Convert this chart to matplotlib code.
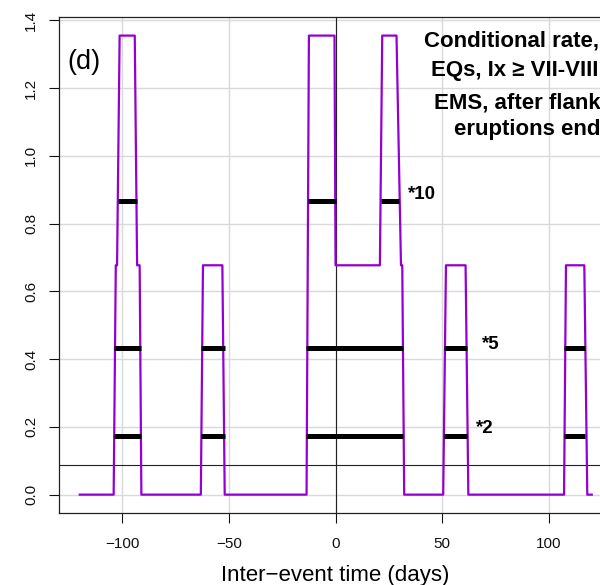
import matplotlib
matplotlib.use("Agg")
import matplotlib.pyplot as plt
import numpy as np

plt.rcParams['font.family'] = ['Liberation Sans', 'DejaVu Sans']

# ---- data ----
curve_x = [-120, -104.1, -103.1, -102.5, -101.3, -94.2, -93.1, -91.9, -91.1,
           -63.2, -62.2, -53.1, -52.0,
           -13.6, -12.5, -0.5, 0.0, 20.8, 21.9, 28.6, 30.7, 31.3, 32.2,
           50.5, 51.8, 61.0, 62.3,
           107.2, 108.1, 116.7, 118.1, 120.2]
curve_y = [0, 0, 0.677, 0.677, 1.355, 1.355, 0.677, 0.677, 0,
           0, 0.677, 0.677, 0,
           0, 1.355, 1.355, 0.677, 0.677, 1.355, 1.355, 0.677, 0.677, 0,
           0, 0.677, 0.677, 0,
           0, 0.677, 0.677, 0, 0]

base_rate = 0.0867
multipliers = [10, 5, 2]
seg_10 = [(-102.0, -93.1), (-13.1, 0.0), (21.3, 29.9)]
seg_5 = [(-104.0, -91.1), (-63.2, -52.0), (-13.9, 31.7), (51.0, 61.8), (107.2, 117.1)]
seg_2 = [(-103.8, -91.3), (-63.2, -52.0), (-13.9, 31.7), (51.0, 61.8), (107.2, 117.1)]
segments = {10: seg_10, 5: seg_5, 2: seg_2}
mult_label_pos = {10: (33.9, 0.885), 5: (68.5, 0.442), 2: (65.9, 0.196)}

x_ticks = [-100, -50, 0, 50, 100]
y_ticks = [0.0, 0.2, 0.4, 0.6, 0.8, 1.0, 1.2, 1.4]
y_tick_labels = ["0.0", "0.2", "0.4", "0.6", "0.8", "1.0", "1.2", "1.4"]

title_lines = ["Conditional rate,", "EQs, Ix \u2265 VII-VIII", "EMS, after flank", "eruptions end"]
title_x = [41.4, 44.6, 46.2, 55.5]
title_y = [1.323, 1.2365, 1.141, 1.062]

# ---- figure ----
fig = plt.figure(figsize=(6.0, 5.85), dpi=100)
ax = fig.add_axes([59.3 / 600, 1 - 513 / 585, (611.8 - 59.3) / 600, (513 - 17.3) / 585])

ax.set_xlim(-129.6, 129.6)
ax.set_ylim(-0.0542, 1.409)

for xt in x_ticks:
    ax.axvline(xt, color='#d9d9d9', lw=1.0, zorder=0)
for yt in y_ticks:
    ax.axhline(yt, color='#d9d9d9', lw=1.0, zorder=0)

ax.axvline(0, color='#222222', lw=0.8, zorder=1)
ax.axhline(base_rate, color='#222222', lw=0.8, zorder=1)

ax.plot(curve_x, curve_y, color='#9400D3', lw=1.6, zorder=3)

for m in multipliers:
    lvl = base_rate * m
    for (a, b) in segments[m]:
        ax.plot([a, b], [lvl, lvl], color='black', lw=3.6, solid_capstyle='butt', zorder=4)
    tx, ty = mult_label_pos[m]
    ax.text(tx, ty, "*%d" % m, fontsize=13.5, fontweight='bold', ha='left', va='center', zorder=5)

for s, tx, ty in zip(title_lines, title_x, title_y):
    ax.text(tx, ty, s, fontsize=16, fontweight='bold', ha='left', va='baseline', zorder=5)

ax.text(-125.7, 1.278, "(d)", fontsize=19.5, ha='left', va='center', zorder=5)

ax.set_xticks(x_ticks)
ax.set_xticklabels([("\u2212%d" % -v) if v < 0 else str(v) for v in x_ticks])
ax.set_yticks(y_ticks)
ax.set_yticklabels(y_tick_labels, rotation=90, va='center')
ax.tick_params(axis='both', direction='out', length=7.2, width=0.8, labelsize=11, colors='#111111')
ax.tick_params(axis='x', pad=10)
ax.tick_params(axis='y', pad=8)

for sp in ax.spines.values():
    sp.set_color('#222222')
    sp.set_linewidth(0.9)

ax.set_xlabel("Inter\u2212event time (days)", fontsize=16, labelpad=10)

fig.savefig("out.png", dpi=100)
